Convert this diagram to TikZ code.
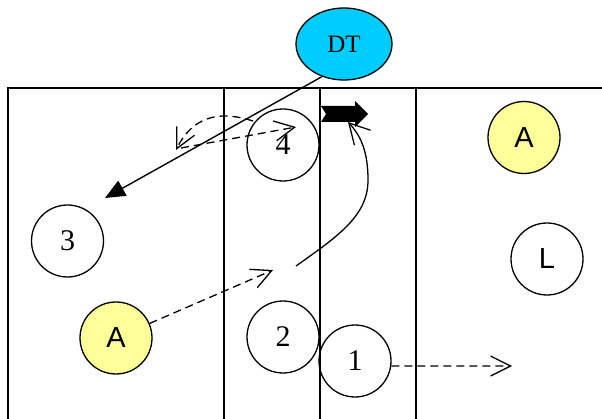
\documentclass[tikz,border=0pt]{standalone}
\usepackage{fontspec}
\setmainfont{Liberation Serif}
\newfontfamily\arialfont{Liberation Sans}
\usetikzlibrary{arrows.meta,shapes.geometric}
\definecolor{dtblue}{RGB}{0,204,255}
\definecolor{ayellow}{RGB}{255,255,153}
\begin{document}
\begin{tikzpicture}[x=1pt,y=-1pt,
  frame/.style={line width=1.5pt},
  player/.style={circle,draw,line width=1.3pt,minimum size=72pt,inner sep=0pt,font=\fontsize{30}{30}\selectfont},
  attacker/.style={player,fill=ayellow,font=\arialfont\fontsize{29}{29}\selectfont},
  coach/.style={ellipse,draw,line width=1.3pt,fill=dtblue,minimum width=96pt,minimum height=72pt,inner sep=0pt,font=\fontsize{25}{25}\selectfont},
  run/.style={line width=1.3pt,dash pattern=on 8pt off 5pt,-{Straight Barb[length=20pt,width=20pt]}},
  dribble/.style={line width=1.3pt,-{Straight Barb[length=20pt,width=22pt]}},
  pass/.style={line width=1.4pt,-{Triangle[length=20pt,width=17pt]}}
]
\useasboundingbox (0,0) rectangle (602,419);
% field frame
\draw[frame] (8,419) -- (8,88) -- (602,88);
\draw[frame] (224,88) -- (224,419);
\draw[frame] (320,88) -- (320,419);
\draw[frame] (416,88) -- (416,419);
% nodes
\node[coach] (DT) at (344,44) {DT};
\node[player] (c4) at (283,145) {4};
\node[player] (c3) at (67.5,241) {3};
\node[player] (c2) at (283,337) {2};
\node[player] (c1) at (355,361) {1};
\node[attacker] (Aup) at (524,137.5) {A};
\node[attacker] (Alow) at (116,338) {A};
\node[player,font=\arialfont\fontsize{29}{29}\selectfont] (L) at (547,259) {L};
% free ends
\coordinate (t3) at (105,198);
\coordinate (ra) at (273,270);
\coordinate (r1) at (512,366);
\coordinate (arcS) at (253,121);
\coordinate (arcE) at (176,150);
\coordinate (lnS) at (181,148);
\coordinate (lnE) at (296,127);
\coordinate (crS) at (296,266);
\coordinate (crE) at (348,122);
% connectors
\draw[pass] (DT.236) -- (t3);
\draw[run] (Alow) -- (ra);
\draw[run] (c1.-8) -- (r1);
\draw[run] (arcS) .. controls (225,112) and (195,112) .. (arcE);
\draw[run] (lnS) -- (lnE);
\draw[dribble] (crS) .. controls (340,235) and (368,215) .. (368,180) .. controls (368,150) and (360,135) .. (crE);
% block arrow
\fill (321,106) -- (355,106) -- (355,101) -- (368,114) -- (355,127) -- (355,122) -- (321,122) -- (326,114) -- cycle;
\end{tikzpicture}
\end{document}
